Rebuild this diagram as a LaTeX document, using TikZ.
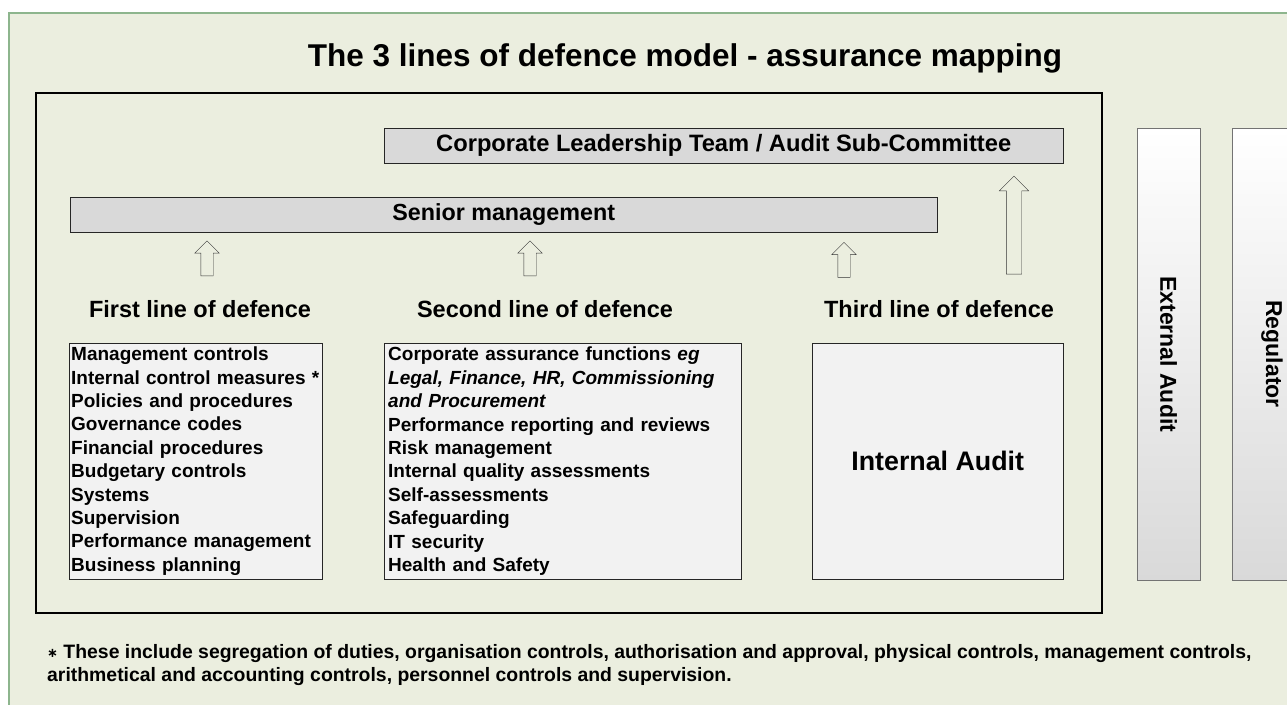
\documentclass[tikz,border=0pt]{standalone}
\usepackage{fontspec}
\setmainfont{Liberation Sans}
\newfontfamily\symfont{DejaVu Sans}
\usetikzlibrary{shapes.arrows}
\definecolor{pagebg}{HTML}{EBEEDF}
\definecolor{framegreen}{HTML}{8DB58D}
\definecolor{barfill}{HTML}{D9D9D9}
\definecolor{listfill}{HTML}{F2F2F2}
\begin{document}
\begin{tikzpicture}[x=1pt,y=-1pt,
  every node/.style={font=\bfseries},
  bar/.style={draw=black!85,fill=barfill,minimum height=35pt,inner sep=0pt,anchor=north west},
  heading/.style={anchor=base,inner sep=0pt,font=\fontsize{23.5}{28}\selectfont\bfseries},
  listbox/.style={draw=black!85,fill=listfill,anchor=north west,minimum height=236pt,inner xsep=4pt,inner ysep=0pt,align=left,font=\fontsize{19}{23.4}\selectfont\bfseries},
  uparrow/.style={single arrow,draw=black!80,thin,rotate=90,inner xsep=0pt,inner ysep=6pt,single arrow head extend=6pt,minimum height=35pt},
  sidebar/.style={draw=black!55,top color=white,bottom color=barfill,anchor=north west,minimum height=452pt,inner sep=0pt},
  sidetext/.style={rotate=-90,inner sep=0pt,font=\fontsize{23}{27}\selectfont\bfseries}]
\useasboundingbox (0,0) rectangle (1287,704);
\clip (0,0) rectangle (1287,704);
\fill[white] (0,0) rectangle (1287,704);
\filldraw[fill=pagebg,draw=framegreen,line width=1.5pt] (9,13) rectangle (1330,740);
% title and inner frame
\node[anchor=base,inner sep=0pt,font=\fontsize{31.5}{38}\selectfont\bfseries] (title) at (685,66) {The 3 lines of defence model - assurance mapping};
\draw[line width=2pt] (36,93) rectangle (1102,613);
% bars
\node[bar,minimum width=679pt,font=\fontsize{23.7}{28}\selectfont\bfseries] (clt) at (384,128) {Corporate Leadership Team / Audit Sub-Committee};
\node[bar,minimum width=867pt,font=\fontsize{23.3}{28}\selectfont\bfseries] (senior) at (70,197) {Senior management};
% arrows
\node[uparrow] (firstup) at (207,261.5) {};
\node[uparrow] (secondup) at (530,261.5) {};
\node[uparrow] (thirdup) at (844,263) {};
\node[uparrow,inner ysep=7.5pt,single arrow head extend=7pt,minimum height=98pt] (cltup) at (1014,229) {};
% lines of defence
\node[heading] (firsthead) at (200,317) {First line of defence};
\node[heading] (secondhead) at (545,317) {Second line of defence};
\node[heading] (thirdhead) at (939,317) {Third line of defence};
\node[listbox,inner xsep=2pt,text width=249pt] (firstbox) at (69,343) {Management controls\\Internal control measures *\\Policies and procedures\\Governance codes\\Financial procedures\\Budgetary controls\\Systems\\Supervision\\Performance management\\Business planning};
\node[listbox,text width=349pt] (secondbox) at (384,343) {Corporate assurance functions \textit{eg}\\\textit{Legal, Finance, HR, Commissioning}\\\textit{and Procurement}\\Performance reporting and reviews\\Risk management\\Internal quality assessments\\Self-assessments\\Safeguarding\\IT security\\Health and Safety};
\node[draw=black!85,fill=listfill,anchor=north west,minimum width=251pt,minimum height=236pt,font=\fontsize{26.8}{30}\selectfont\bfseries] (thirdbox) at (812,343) {Internal Audit};
% external bodies
\node[sidebar,minimum width=63pt] (extaudit) at (1137,128) {};
\node[sidetext] (extaudittext) at (extaudit.center) {External Audit};
\node[sidebar,minimum width=80pt] (regulator) at (1232,128) {};
\node[sidetext] (regulatortext) at (1272,354) {Regulator};
% footnote
\node[anchor=north west,inner sep=0pt,align=left,font=\fontsize{19.4}{23.4}\selectfont\bfseries] (footnote) at (47,644) {{\symfont\fontsize{13}{13}\selectfont\raisebox{1pt}{∗}} These include segregation of duties, organisation controls, authorisation and approval, physical controls, management controls,\\arithmetical and accounting controls, personnel controls and supervision.};
\end{tikzpicture}
\end{document}
